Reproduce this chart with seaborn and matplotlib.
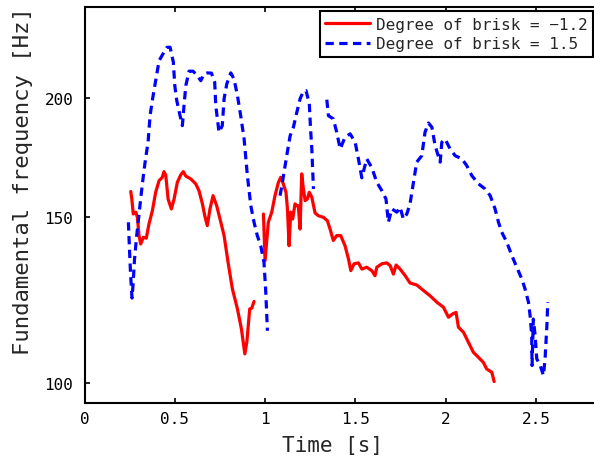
import matplotlib
matplotlib.use("Agg")
import matplotlib.pyplot as plt
import matplotlib.ticker as mticker
import seaborn as sns
import pandas as pd

# F0 contours (time in s, frequency in Hz), one list per voiced segment
red_t_1 = [0.256, 0.262, 0.270, 0.284, 0.293, 0.302, 0.311, 0.326, 0.342, 0.357, 0.376, 0.394,
           0.413, 0.431, 0.440, 0.450, 0.463, 0.481, 0.496, 0.514, 0.533, 0.547, 0.561, 0.588,
           0.616, 0.634, 0.653, 0.666, 0.680, 0.695, 0.712, 0.732, 0.755, 0.773, 0.795, 0.819,
           0.847, 0.869, 0.888, 0.899, 0.915, 0.926, 0.939]
red_f_1 = [159.4, 156.5, 150.9, 151.6, 149.7, 143.2, 140.3, 142.6, 142.3, 147.3, 152.2, 159.1,
           163.7, 165.0, 167.3, 165.8, 156.5, 152.8, 156.5, 163.0, 166.0, 167.3, 165.5, 164.4,
           162.4, 159.7, 154.7, 150.3, 146.7, 152.8, 157.8, 154.0, 147.9, 143.2, 134.2, 125.8,
           119.8, 114.1, 107.4, 110.5, 119.8, 120.0, 122.0]

red_t_2 = [0.991, 1.000, 1.018, 1.037, 1.055, 1.074, 1.087, 1.101, 1.116, 1.124, 1.133, 1.142,
           1.153, 1.166, 1.176, 1.184, 1.194, 1.203, 1.212, 1.222, 1.234, 1.245, 1.259, 1.277,
           1.295, 1.323, 1.345, 1.360, 1.378, 1.397, 1.419, 1.443, 1.462, 1.475, 1.493, 1.517,
           1.536, 1.563, 1.591, 1.609, 1.619, 1.647, 1.674, 1.693, 1.711, 1.726, 1.748, 1.776,
           1.803, 1.840, 1.877, 1.914, 1.951, 1.988, 2.016, 2.040, 2.058, 2.071, 2.099, 2.126,
           2.154, 2.182, 2.209, 2.228, 2.256, 2.269]
red_f_2 = [150.9, 134.7, 147.9, 151.6, 157.8, 163.0, 165.0, 162.4, 159.1, 152.8, 139.7, 151.6,
           149.1, 154.7, 154.0, 154.0, 145.5, 166.4, 160.5, 155.9, 156.5, 159.1, 157.2, 151.3,
           150.3, 149.7, 148.5, 145.5, 141.5, 143.2, 143.2, 139.7, 135.3, 131.5, 133.7, 134.0,
           132.0, 132.6, 131.5, 129.9, 132.6, 133.7, 134.0, 133.1, 130.4, 133.3, 132.0, 129.9,
           127.6, 127.0, 125.3, 123.7, 121.8, 120.3, 117.4, 118.4, 118.8, 114.6, 113.2, 110.5,
           107.8, 106.5, 105.2, 103.5, 102.7, 100.4]

blue_t_1 = [0.243, 0.249, 0.255, 0.263, 0.269, 0.277, 0.289, 0.302, 0.313, 0.326, 0.338, 0.352,
            0.363, 0.377, 0.391, 0.413, 0.440, 0.457, 0.474, 0.492, 0.500, 0.511, 0.527, 0.542,
            0.551, 0.561, 0.579, 0.601, 0.625, 0.644, 0.662, 0.680, 0.703, 0.721, 0.727, 0.736,
            0.745, 0.763, 0.773, 0.788, 0.810, 0.828, 0.847, 0.865, 0.884, 0.902, 0.921, 0.939,
            0.957, 0.976, 0.994, 1.004, 1.013]
blue_f_1 = [147.9, 138.6, 130.4, 123.0, 127.3, 135.3, 143.2, 150.9, 157.8, 165.7, 172.6, 179.7,
            191.7, 199.7, 207.1, 219.1, 223.7, 226.4, 226.4, 218.3, 206.2, 198.8, 192.5, 187.1,
            196.4, 206.2, 213.6, 213.6, 211.3, 208.7, 212.2, 212.7, 212.6, 207.9, 196.4, 190.2,
            184.1, 187.1, 199.7, 207.1, 212.7, 209.6, 201.3, 191.7, 181.1, 165.7, 154.0, 147.9,
            143.2, 139.7, 134.2, 124.8, 113.6]

blue_t_2 = [1.083, 1.093, 1.120, 1.139, 1.157, 1.176, 1.194, 1.212, 1.227, 1.245, 1.252, 1.259,
            1.268]
blue_f_2 = [157.8, 161.7, 173.9, 182.6, 186.4, 193.3, 199.7, 203.4, 203.7, 197.4, 185.6, 176.8,
            160.4]

blue_t_3 = [1.342, 1.351, 1.378, 1.397, 1.416, 1.443, 1.471, 1.499, 1.517, 1.536, 1.563, 1.591,
            1.619, 1.647, 1.670, 1.683, 1.702, 1.730, 1.748, 1.766, 1.785, 1.803, 1.822, 1.840,
            1.868, 1.886, 1.905, 1.924, 1.942, 1.970, 1.979, 1.997, 2.025, 2.053, 2.090, 2.117,
            2.145, 2.182, 2.219, 2.247, 2.274, 2.293, 2.311, 2.339, 2.367, 2.394, 2.422, 2.440,
            2.459, 2.468, 2.477, 2.479, 2.486, 2.496, 2.505, 2.524, 2.542, 2.551, 2.561, 2.566]
blue_f_3 = [199.3, 191.7, 190.2, 184.1, 176.8, 181.9, 183.4, 179.7, 172.6, 164.8, 172.6, 169.0,
            163.0, 159.7, 156.5, 147.9, 152.8, 151.6, 153.4, 149.1, 150.9, 154.7, 163.0, 171.2,
            173.9, 184.1, 188.3, 186.4, 178.2, 171.2, 179.7, 181.1, 176.8, 173.9, 172.6, 169.8,
            165.7, 162.4, 160.4, 157.8, 152.8, 147.9, 144.4, 140.9, 136.4, 132.6, 128.9, 125.8,
            121.8, 117.9, 112.3, 104.4, 116.9, 112.3, 106.1, 104.4, 101.9, 106.1, 115.0, 121.8]

labels = ["Degree of brisk = \u22121.2", "Degree of brisk = 1.5"]
colors = ["#ff0000", "#0000ff"]
styles = ["-", (0, (2.6, 1.7))]
segments = [
    [(red_t_1, red_f_1), (red_t_2, red_f_2)],
    [(blue_t_1, blue_f_1), (blue_t_2, blue_f_2), (blue_t_3, blue_f_3)],
]
x_ticks = [0, 0.5, 1, 1.5, 2, 2.5]
y_ticks = [100, 150, 200]

sns.set_style("ticks")
plt.rcParams["font.family"] = ["DejaVu Sans Mono"]

fig = plt.figure(figsize=(5.94, 4.64), dpi=100)
ax = fig.add_axes([0.1423, 0.1293, 0.8662, 0.8528])

for i, segs in enumerate(segments):
    for j, (t, f) in enumerate(segs):
        df = pd.DataFrame({"t": t, "f": f})
        sns.lineplot(data=df, x="t", y="f", ax=ax, sort=False, estimator=None,
                     color=colors[i], linewidth=2.3, linestyle=styles[i],
                     label=labels[i] if j == 0 else None)

ax.set_yscale("log")
ax.set_xlim(0, 2.85)
ax.set_ylim(95.3, 249.5)
ax.set_xticks(x_ticks)
ax.set_xticklabels(["0", "0.5", "1", "1.5", "2", "2.5"])
ax.set_yticks(y_ticks)
ax.yaxis.set_major_formatter(mticker.FormatStrFormatter("%d"))
ax.yaxis.set_minor_locator(mticker.NullLocator())

for s in ax.spines.values():
    s.set_visible(True)
    s.set_linewidth(1.5)
    s.set_color("black")
ax.tick_params(direction="in", length=3.5, width=1.2, top=True, right=True,
               labelsize=11.5, colors="black")
ax.tick_params(axis="x", pad=6)
ax.tick_params(axis="y", pad=8)

ax.set_xlabel("Time [s]", fontsize=15)
ax.set_ylabel("Fundamental frequency [Hz]", fontsize=16)
ax.xaxis.set_label_coords(0.482, -0.082)
ax.yaxis.set_label_coords(-0.100, 0.5636)

leg = ax.legend(loc="upper right", bbox_to_anchor=(0.9883, 0.9907), borderaxespad=0,
                fontsize=11.5, handlelength=2.8, handletextpad=0.35, labelspacing=0.3,
                borderpad=0.35, fancybox=False, framealpha=1)
leg.get_frame().set_edgecolor("black")
leg.get_frame().set_linewidth(1.5)

fig.savefig("out.png", dpi=100)
